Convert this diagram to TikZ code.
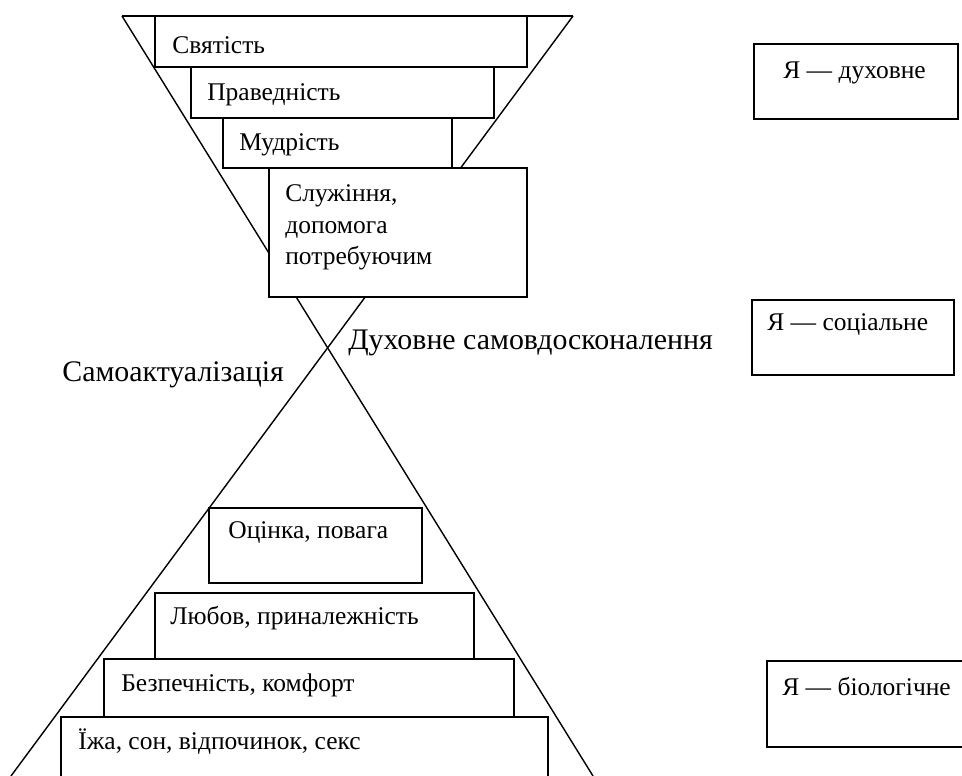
\documentclass[tikz,border=0pt]{standalone}
\usepackage{fontspec}
\setmainfont{Liberation Serif}
\begin{document}
\begin{tikzpicture}[
    lvl/.style={draw, fill=white, line width=0.9pt},
    txt/.style={anchor=west, inner sep=0pt, font=\fontsize{14.5}{18}\selectfont},
    lbl/.style={anchor=west, inner sep=0pt, font=\fontsize{17}{20}\selectfont}
  ]
    \useasboundingbox (0,0) rectangle (19.24,15.52);
    % hourglass
    \coordinate (tl) at (2.44,15.2);
    \coordinate (tr) at (11.46,15.2);
    \coordinate (bl) at (0.22,0);
    \coordinate (br) at (11.86,0);
    \draw[line width=0.8pt] (tl) -- (tr);
    \draw[line width=0.8pt] (tl) -- (br);
    \draw[line width=0.8pt] (tr) -- (bl);
    % upper steps
    \draw[lvl] (3.10,14.18) rectangle (10.54,15.2);
    \node[txt] (svyat) at (3.44,14.62) {Святість};
    \draw[lvl] (3.82,13.16) rectangle (9.88,14.18);
    \node[txt] (praved) at (4.14,13.62) {Праведність};
    \draw[lvl] (4.46,12.16) rectangle (9.04,13.16);
    \node[txt] (mudr) at (4.78,12.62) {Мудрість};
    \draw[lvl] (5.38,9.58) rectangle (10.54,12.16);
    \node[txt, align=left] (sluzh) at (5.70,10.97) {Служіння,\\допомога\\потребуючим};
    % lower steps
    \draw[lvl] (4.18,3.86) rectangle (8.44,5.36);
    \node[txt] (otsin) at (4.56,4.86) {Оцінка, повага};
    \draw[lvl] (3.10,2.34) rectangle (9.48,3.66);
    \node[txt] (lyub) at (3.40,3.16) {Любов, приналежність};
    \draw[lvl] (2.08,1.18) rectangle (10.28,2.34);
    \node[txt] (bezp) at (2.42,1.82) {Безпечність, комфорт};
    \draw[lvl] (1.22,-0.5) rectangle (10.96,1.18);
    \node[txt] (yizha) at (1.56,0.68) {Їжа, сон, відпочинок, секс};
    % side labels
    \node[lbl] (dukh) at (6.96,8.66) {Духовне самовдосконалення};
    \node[lbl] (samo) at (1.24,8.02) {Самоактуалізація};
    % right column
    \draw[lvl] (15.08,13.14) rectangle (19.16,14.64);
    \node[txt] (ya1) at (15.66,14.06) {Я — духовне};
    \draw[lvl] (15.04,8.02) rectangle (19.08,9.52);
    \node[txt] (ya2) at (15.34,9.02) {Я — соціальне};
    \draw[lvl] (15.34,0.58) rectangle (19.6,2.3);
    \node[txt] (ya3) at (15.64,1.78) {Я — біологічне};
\end{tikzpicture}
\end{document}
